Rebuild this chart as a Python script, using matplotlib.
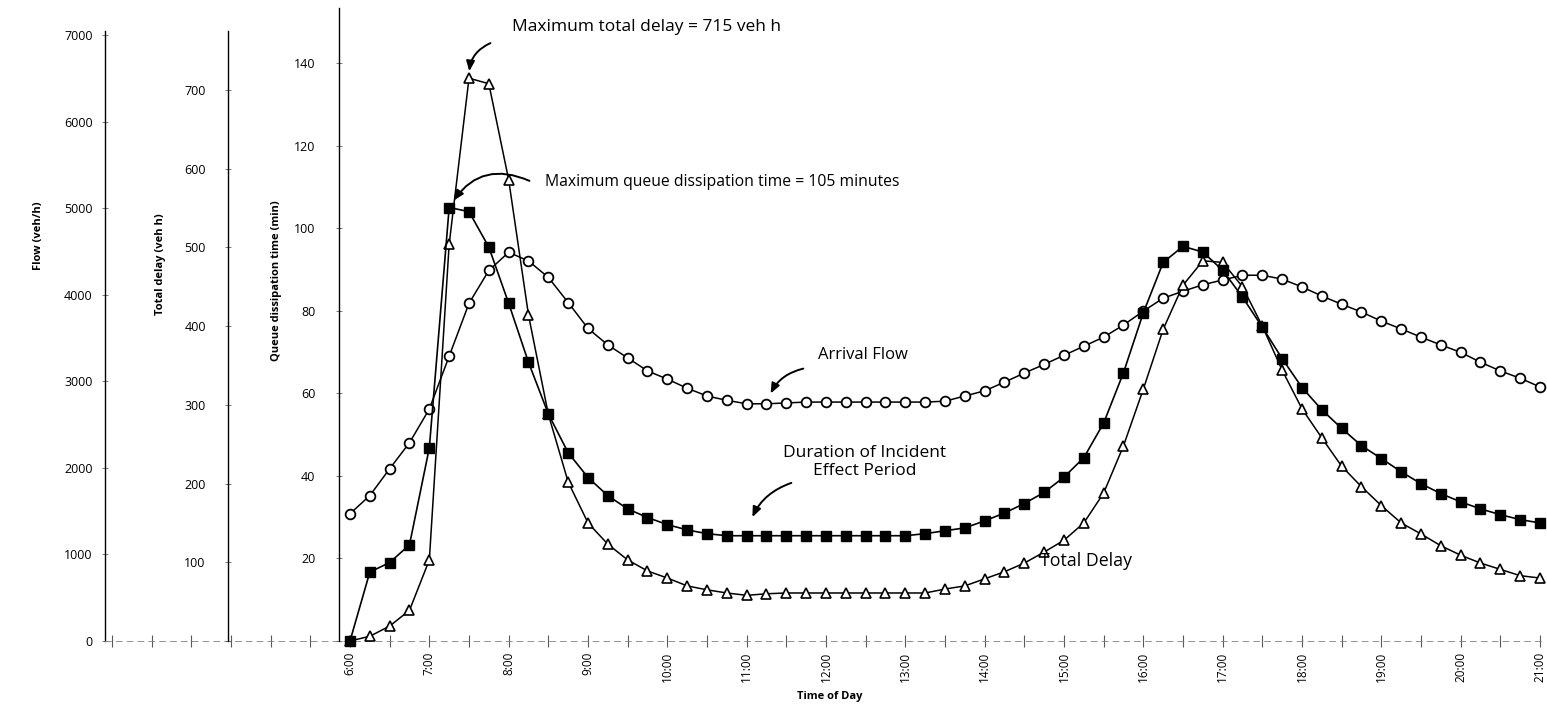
import numpy as np
import matplotlib
matplotlib.use("Agg")
import matplotlib.pyplot as plt

# ---------------- data (15-minute intervals, 6:00 .. 21:00) ----------------
hours = np.arange(6.0, 21.0 + 1e-9, 0.25)

arrival_flow = [1470, 1680, 1990, 2290, 2680, 3290, 3900, 4280, 4490, 4390,
                4200, 3910, 3610, 3420, 3270, 3120, 3025, 2920, 2830, 2780,
                2740, 2740, 2750, 2760, 2760, 2760, 2760, 2760, 2760, 2760,
                2770, 2830, 2890, 2990, 3095, 3195, 3300, 3405, 3510, 3650,
                3810, 3960, 4040, 4115, 4170, 4225, 4225, 4180, 4090, 3985,
                3890, 3800, 3695, 3605, 3510, 3420, 3335, 3220, 3120, 3035,
                2935]

queue_time = [0, 16.7, 19, 23.3, 46.8, 105, 104, 95.4, 81.8, 67.5,
              55, 45.6, 39.6, 35.2, 32, 29.9, 28.2, 26.9, 26, 25.5,
              25.5, 25.5, 25.5, 25.5, 25.5, 25.5, 25.5, 25.5, 25.5, 26,
              26.7, 27.4, 29.1, 31, 33.3, 36, 39.7, 44.4, 52.8, 65,
              79.5, 91.7, 95.6, 94.2, 89.8, 83.3, 76, 68.4, 61.4, 56,
              51.5, 47.3, 44.2, 41, 38.1, 35.7, 33.7, 32, 30.6, 29.4,
              28.6]

total_delay = [0, 6, 19, 39, 103, 504, 715, 708, 586, 414,
               288, 202, 150, 123, 103, 89, 80, 70, 65, 61,
               58, 60, 61, 61, 61, 61, 61, 61, 61, 61,
               66, 70, 79, 88, 99, 113, 128, 150, 188, 248,
               320, 396, 452, 483, 481, 450, 400, 344, 295, 258,
               222, 196, 172, 150, 136, 121, 109, 99, 91, 83,
               80]

hour_ticks = list(range(6, 22))
hour_labels = ["6:00", "7:00", "8:00", "9:00", "10:00", "11:00", "12:00",
               "13:00", "14:00", "15:00", "16:00", "17:00", "18:00",
               "19:00", "20:00", "21:00"]
flow_ticks = [0, 1000, 2000, 3000, 4000, 5000, 6000, 7000]
delay_ticks = [0, 100, 200, 300, 400, 500, 600, 700]
delay_ticklabels = ["", "100", "200", "300", "400", "500", "600", "700"]
queue_ticks = [0, 20, 40, 60, 80, 100, 120, 140]
queue_ticklabels = ["", "20", "40", "60", "80", "100", "120", "140"]

# ---------------- figure layout (pixel based) ----------------
W, H = 1547, 709
fig = plt.figure(figsize=(W / 100, H / 100), dpi=100)
FONT = "Open Sans"
plt.rcParams["font.family"] = [FONT, "DejaVu Sans"]

left_px, right_px, top_px, bot_px = 105, 1545, 8, 641
ax = fig.add_axes([left_px / W, 1 - bot_px / H,
                   (right_px - left_px) / W, (bot_px - top_px) / H])
ppx_hour = (1540 - 350) / 15.0
ax.set_xlim(6 - (350 - left_px) / ppx_hour, 21 + (right_px - 1540) / ppx_hour)

# flow axis (base)
ax.set_ylim(0, (bot_px - top_px) / ((643 - 37) / 7000.0))
ax_d = ax.twinx()
ax_d.set_ylim(0, (bot_px - top_px) / ((641 - 90) / 700.0))
ax_q = ax.twinx()
ax_q.set_ylim(0, (bot_px - top_px) / ((641 - 63) / 140.0))

for a in (ax, ax_d, ax_q):
    for s in ("top", "right"):
        a.spines[s].set_visible(False)
    a.patch.set_visible(False)
for a in (ax_d, ax_q):
    a.spines["bottom"].set_visible(False)
    a.yaxis.set_ticks_position("left")
    a.yaxis.set_label_position("left")
    a.spines["left"].set_visible(True)

ax_d.spines["left"].set_position(("axes", (228 - left_px) / (right_px - left_px)))
ax_q.spines["left"].set_position(("axes", (339 - left_px) / (right_px - left_px)))
ax.spines["left"].set_bounds(0, 7050)
ax_d.spines["left"].set_bounds(0, 775)
for a in (ax, ax_d, ax_q):
    a.spines["left"].set_linewidth(1.0)
    a.spines["left"].set_color("black")

# bottom axis: broken light line with half-hour ticks
ax.spines["bottom"].set_linestyle((0, (7, 6)))
ax.spines["bottom"].set_color("0.5")
ax.spines["bottom"].set_linewidth(0.6)
ax.set_xticks(hour_ticks)
ax.set_xticklabels(hour_labels, rotation=90, fontsize=8.5, family=FONT)
ax.set_xticks(np.arange(3.0, 21.01, 0.5), minor=True)
ax.tick_params(axis="x", which="both", direction="inout", length=8,
               width=0.8, color="0.35", pad=4)

ax.set_yticks(flow_ticks)
ax.set_yticklabels([str(v) for v in flow_ticks], fontsize=9, family=FONT)
ax.tick_params(axis="y", direction="inout", length=4, width=0.6,
               color="0.4", pad=7)
ax_d.set_yticks(delay_ticks)
ax_d.set_yticklabels(delay_ticklabels, fontsize=9, family=FONT)
ax_d.tick_params(axis="y", direction="inout", length=4, width=0.6,
                 color="0.4", pad=14)
ax_q.set_yticks(queue_ticks)
ax_q.set_yticklabels(queue_ticklabels, fontsize=9, family=FONT)
ax_q.tick_params(axis="y", direction="inout", length=4, width=0.6,
                 color="0.4", pad=15)

# ---------------- series ----------------
ax.plot(hours, arrival_flow, color="black", lw=1.1, marker="o", ms=7,
        mfc="white", mec="black", mew=1.3, clip_on=False)
ax_d.plot(hours, total_delay, color="black", lw=1.1, marker="^", ms=7,
          mfc="white", mec="black", mew=1.2, clip_on=False)
ax_q.plot(hours, queue_time, color="black", lw=1.2, marker="s", ms=6.5,
          mfc="black", mec="black", mew=1.0, clip_on=False)

# ---------------- axis titles ----------------
def fig_text(xp, yp, s, **kw):
    fig.text(xp / W, 1 - yp / H, s, **kw)

fig_text(38, 236, "Flow (veh/h)", rotation=90, ha="center", va="center",
         fontsize=8, fontweight="bold", family=FONT)
fig_text(161, 264, "Total delay (veh h)", rotation=90, ha="center",
         va="center", fontsize=8, fontweight="bold", family=FONT)
fig_text(276, 281, "Queue dissipation time (min)", rotation=90, ha="center",
         va="center", fontsize=8, fontweight="bold", family=FONT)
fig_text(830, 697, "Time of Day", ha="center", va="center", fontsize=8,
         fontweight="bold", family=FONT)

# ---------------- annotations ----------------
ann_kw = dict(family=FONT, color="black")
fig_text(512, 27, "Maximum total delay = 715 veh h", ha="left", va="center",
         fontsize=12.5, **ann_kw)
fig_text(545, 182, "Maximum queue dissipation time = 105 minutes", ha="left",
         va="center", fontsize=11.3, **ann_kw)
fig_text(818, 355, "Arrival Flow", ha="left", va="center", fontsize=12, **ann_kw)
fig_text(865, 462, "Duration of Incident\nEffect Period", ha="center",
         va="center", linespacing=1.2, fontsize=12.5, **ann_kw)
fig_text(1040, 561, "Total Delay", ha="left", va="center", fontsize=12.8, **ann_kw)

arrow_kw = dict(arrowstyle="-|>,head_length=0.6,head_width=0.25", color="black",
                lw=1.4)
ax_d.annotate("", xy=(hours[6], total_delay[6]), xycoords="data",
              xytext=(493, H - 42), textcoords="figure pixels",
              arrowprops=dict(connectionstyle="arc3,rad=0.35", shrinkB=5, **arrow_kw))
ax_q.annotate("", xy=(hours[5], queue_time[5]), xycoords="data",
              xytext=(532, H - 182), textcoords="figure pixels",
              arrowprops=dict(connectionstyle="arc3,rad=0.45", shrinkB=6, **arrow_kw))
ax.annotate("", xy=(hours[21], arrival_flow[21]), xycoords="data",
            xytext=(806, H - 368), textcoords="figure pixels",
            arrowprops=dict(connectionstyle="arc3,rad=0.3", shrinkB=8, **arrow_kw))
ax_q.annotate("", xy=(hours[20], queue_time[20]), xycoords="data",
              xytext=(794, H - 482), textcoords="figure pixels",
              arrowprops=dict(connectionstyle="arc3,rad=0.3", shrinkB=14, **arrow_kw))

fig.savefig("out.png", dpi=100)
